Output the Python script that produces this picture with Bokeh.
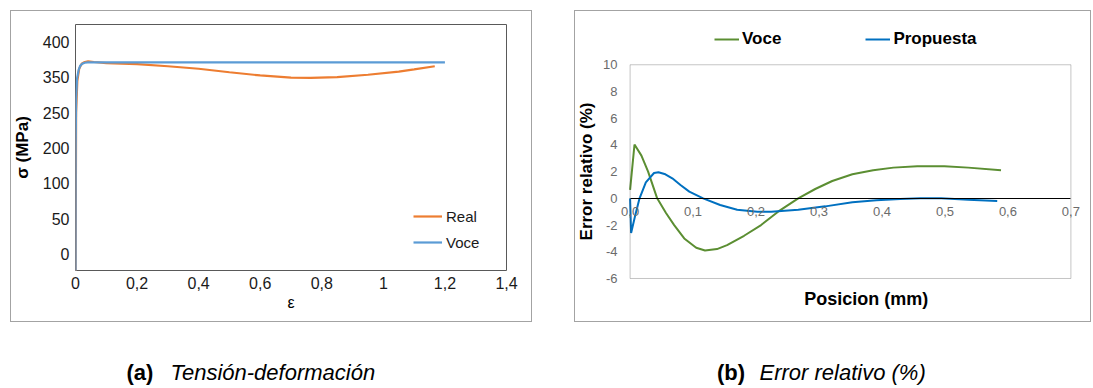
from bokeh.plotting import figure
from bokeh.layouts import row, column
from bokeh.models import (Legend, LegendItem, FixedTicker, Range1d, Spacer,
                          Label, BoxAnnotation)
from bokeh.embed import file_html
from bokeh.resources import INLINE

FONT = "Liberation Sans"

# ---------------- data: panel (a) tension-deformation ----------------
real_x = [0.0, 0.002, 0.006, 0.012, 0.02, 0.03, 0.041, 0.06, 0.1, 0.2, 0.3, 0.4,
          0.5, 0.6, 0.7, 0.764, 0.85, 0.95, 1.05, 1.1, 1.167]
real_y = [0, 300, 345, 362, 369, 371.5, 372.5, 371.5, 370, 368.5, 365.5, 362,
          357, 352.5, 349.5, 349, 350, 353.5, 358, 361, 365.5]
voce_a_x = [0.0, 0.0005, 0.002, 0.005, 0.01, 0.015, 0.022, 0.03, 0.04, 1.2]
voce_a_y = [0, 250, 320, 348, 360, 366, 369, 370.5, 371, 371]

a_x_ticks = [0, 0.2, 0.4, 0.6, 0.8, 1.0, 1.2, 1.4]
a_x_labels = ["0", "0,2", "0,4", "0,6", "0,8", "1", "1,2", "1,4"]
a_y_ticks = [100, 150, 200, 250, 300, 350, 400]
a_y_labels = ["0", "50", "100", "200", "250", "350", "400"]

# ---------------- data: panel (b) relative error ----------------
voce_b_x = [0.0, 0.007, 0.018, 0.0286, 0.043, 0.057, 0.070, 0.086, 0.105, 0.119,
            0.138, 0.154, 0.181, 0.208, 0.235, 0.267, 0.294, 0.321, 0.353, 0.386,
            0.418, 0.456, 0.499, 0.537, 0.589]
voce_b_y = [0.63, 4.03, 3.2, 2.0, 0.0, -1.1, -2.0, -3.0, -3.7, -3.9,
            -3.8, -3.5, -2.8, -2.0, -1.0, 0.0, 0.7, 1.3, 1.8, 2.1,
            2.3, 2.4, 2.4, 2.3, 2.1]
prop_x = [0.0, 0.0016, 0.008, 0.015, 0.025, 0.038, 0.045, 0.056, 0.067, 0.08,
          0.094, 0.116, 0.143, 0.17, 0.202, 0.224, 0.267, 0.31, 0.353, 0.391,
          0.429, 0.461, 0.494, 0.537, 0.583]
prop_y = [0.0, -2.6, -1.3, 0.0, 1.2, 1.9, 1.95, 1.8, 1.5, 1.0,
          0.5, 0.0, -0.5, -0.85, -1.0, -1.0, -0.85, -0.6, -0.3, -0.15,
          -0.05, 0.0, 0.0, -0.1, -0.2]

b_x_ticks = [0, 0.1, 0.2, 0.3, 0.4, 0.5, 0.6, 0.7]
b_x_labels = ["0,0", "0,1", "0,2", "0,3", "0,4", "0,5", "0,6", "0,7"]
b_y_ticks = [-6, -4, -2, 0, 2, 4, 6, 8, 10]
b_y_labels = ["-6", "-4", "-2", "0", "2", "4", "6", "8", "10"]
b_x_lim = (0, 0.7)
b_y_lim = (-6, 10)

captions = [("(a)", "Tensión-deformación"), ("(b)", "Error relativo (%)")]

PANEL_STYLE = {"outline": "1.5px solid #a3a3a3", "outline-offset": "-3px"}

# ---------------- panel (a) ----------------
pa = figure(width=526, height=316, output_backend="svg", toolbar_location=None,
            x_range=Range1d(0, 1.4), y_range=Range1d(76.4, 424.6),
            min_border_left=67, min_border_right=28, min_border_top=16,
            min_border_bottom=54)
pa.styles = PANEL_STYLE
pa.grid.visible = False
pa.outline_line_color = "#595959"
pa.outline_line_width = 1
pa.background_fill_color = "white"
pa.border_fill_alpha = 0

ra = pa.line(real_x, real_y, line_color="#ED7D31", line_width=2.2)
va = pa.line(voce_a_x, voce_a_y, line_color="#5B9BD5", line_width=2.2)

pa.xaxis.ticker = FixedTicker(ticks=a_x_ticks)
pa.xaxis.major_label_overrides = {t: l for t, l in zip(a_x_ticks, a_x_labels)}
pa.yaxis.ticker = FixedTicker(ticks=a_y_ticks)
pa.yaxis.major_label_overrides = {t: l for t, l in zip(a_y_ticks, a_y_labels)}
for ax in (pa.xaxis[0], pa.yaxis[0]):
    ax.axis_line_color = None
    ax.major_tick_line_color = None
    ax.minor_tick_line_color = None
    ax.major_tick_out = 0
    ax.major_tick_in = 0
    ax.minor_tick_out = 0
    ax.major_label_text_font = FONT
    ax.major_label_text_font_size = "16px"
    ax.major_label_text_color = "#1a1a1a"
    ax.axis_label_text_font = FONT
    ax.axis_label_text_color = "black"
pa.xaxis.major_label_standoff = 6
pa.xaxis.axis_label = "ε"
pa.xaxis.axis_label_text_font_size = "16px"
pa.xaxis.axis_label_text_font_style = "normal"
pa.xaxis.axis_label_standoff = 2
pa.yaxis.major_label_standoff = 6
pa.yaxis.axis_label = "σ (MPa)"
pa.yaxis.axis_label_text_font_size = "17px"
pa.yaxis.axis_label_text_font_style = "bold"
pa.yaxis.axis_label_standoff = 8

leg_a = Legend(items=[LegendItem(label="Real", renderers=[ra]),
                      LegendItem(label="Voce", renderers=[va])],
               location=(338, 18), orientation="vertical",
               padding=0, margin=0, spacing=6, glyph_width=29, glyph_height=20,
               label_height=20, label_standoff=4,
               label_text_font=FONT, label_text_font_size="15px",
               label_text_color="#1a1a1a",
               border_line_color=None, background_fill_alpha=0)
pa.add_layout(leg_a, "center")

# ---------------- panel (b) ----------------
# the frame is a little larger than the plotted box (0..0.7, -6..10) so that the
# legend above, the x-axis title below and the edge tick labels fit inside it
pb = figure(width=521, height=316, output_backend="svg", toolbar_location=None,
            x_range=Range1d(-0.02, 0.72), y_range=Range1d(-8.77, 12.79),
            min_border_left=45, min_border_right=10, min_border_top=19,
            min_border_bottom=9)
pb.styles = PANEL_STYLE
pb.grid.visible = False
pb.outline_line_color = None
pb.border_fill_alpha = 0

pb.add_layout(BoxAnnotation(left=b_x_lim[0], right=b_x_lim[1],
                            bottom=b_y_lim[0], top=b_y_lim[1],
                            fill_alpha=0, line_color="#404040", line_width=1))

vb = pb.line(voce_b_x, voce_b_y, line_color="#5B8E32", line_width=2)
pr = pb.line(prop_x, prop_y, line_color="#0070C0", line_width=2)

xb = pb.xaxis[0]
xb.fixed_location = 0
xb.bounds = b_x_lim
xb.ticker = FixedTicker(ticks=b_x_ticks)
xb.major_label_overrides = {t: l for t, l in zip(b_x_ticks, b_x_labels)}
xb.axis_line_color = "black"
xb.axis_line_width = 1
xb.major_label_standoff = 9

yb = pb.yaxis[0]
yb.ticker = FixedTicker(ticks=b_y_ticks)
yb.major_label_overrides = {t: l for t, l in zip(b_y_ticks, b_y_labels)}
yb.axis_line_color = None
yb.major_label_standoff = 0
yb.axis_label = "Error relativo (%)"
yb.axis_label_text_font = FONT
yb.axis_label_text_font_size = "17px"
yb.axis_label_text_font_style = "bold"
yb.axis_label_text_color = "black"
yb.axis_label_standoff = 4
for ax in (xb, yb):
    ax.major_tick_line_color = None
    ax.minor_tick_line_color = None
    ax.major_tick_out = 0
    ax.major_tick_in = 0
    ax.minor_tick_out = 0
    ax.major_label_text_font = FONT
    ax.major_label_text_font_size = "13px"
    ax.major_label_text_color = "#6b6b6b"

pb.add_layout(Label(x=0.375, y=-7.52, text="Posicion (mm)", text_font=FONT,
                    text_font_size="18px", text_font_style="bold",
                    text_color="black", text_align="center",
                    text_baseline="middle"))

leg_b = Legend(items=[LegendItem(label="Voce", renderers=[vb]),
                      LegendItem(label="Propuesta", renderers=[pr])],
               location=(97, 266), orientation="horizontal",
               padding=0, margin=0, spacing=84, glyph_width=25, glyph_height=20,
               label_height=20, label_standoff=3,
               label_text_font=FONT, label_text_font_size="17px",
               label_text_font_style="bold", label_text_color="black",
               border_line_color=None, background_fill_alpha=0)
pb.add_layout(leg_b, "center")

# ---------------- captions ----------------
pc = figure(width=1093, height=64, output_backend="svg", toolbar_location=None,
            x_range=Range1d(0, 1093), y_range=Range1d(0, 64),
            x_axis_type=None, y_axis_type=None, min_border=0)
pc.grid.visible = False
pc.outline_line_color = None
cap_pos = [(126, 170), (716.5, 759)]
for (bold_txt, ital_txt), (xb0, xi0) in zip(captions, cap_pos):
    pc.add_layout(Label(x=xb0, y=16, text=bold_txt, text_font=FONT,
                        text_font_size="22px", text_font_style="bold",
                        text_color="black", text_baseline="middle"))
    pc.add_layout(Label(x=xi0, y=16, text=ital_txt, text_font=FONT,
                        text_font_size="22px", text_font_style="italic",
                        text_color="black", text_baseline="middle"))

panels = row(Spacer(width=8, height=316), column(pa), Spacer(width=38, height=316),
             column(pb))
layout = column(Spacer(width=1093, height=8), panels, pc)

open("out.html", "w").write(file_html(layout, INLINE))
